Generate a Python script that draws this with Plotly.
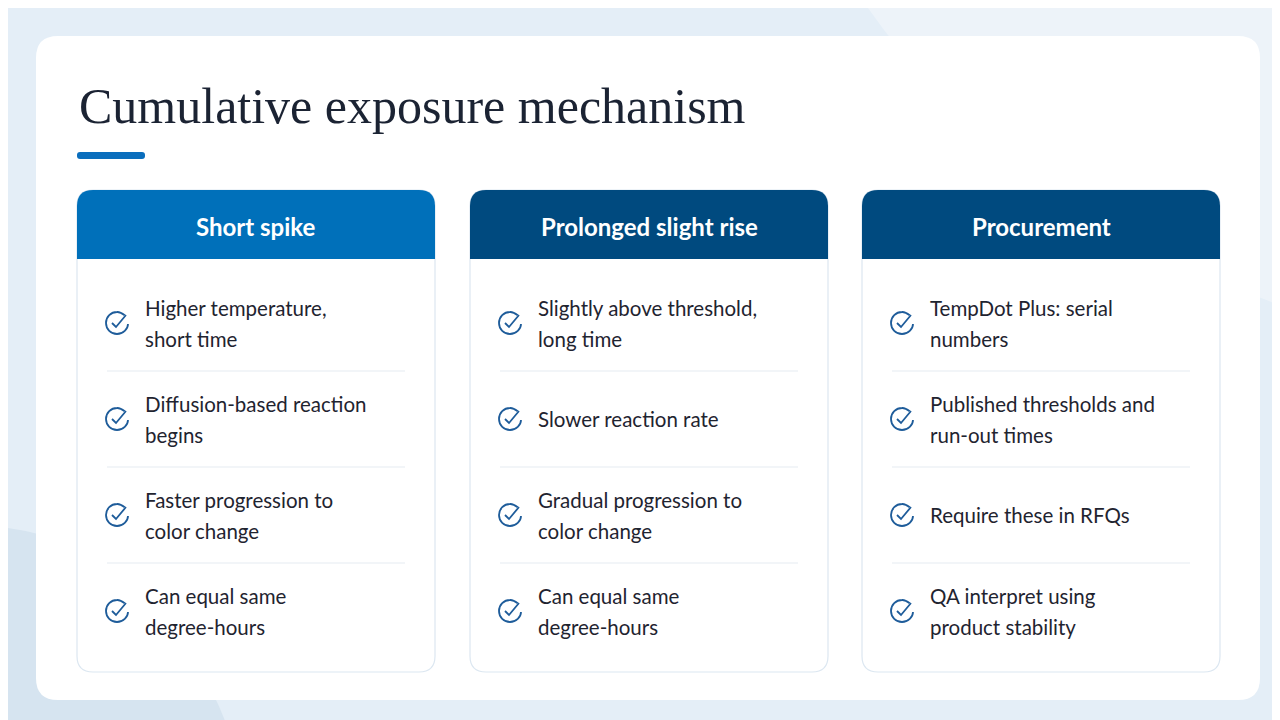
import plotly.graph_objects as go

title = "Cumulative exposure mechanism"
headers = ["Short spike", "Prolonged slight rise", "Procurement"]
header_colors = ["#0070BA", "#004A7F", "#004A7F"]
col1 = ["Higher temperature,\nshort time", "Diffusion-based reaction\nbegins",
        "Faster progression to\ncolor change", "Can equal same\ndegree-hours"]
col2 = ["Slightly above threshold,\nlong time", "Slower reaction rate",
        "Gradual progression to\ncolor change", "Can equal same\ndegree-hours"]
col3 = ["TempDot Plus: serial\nnumbers", "Published thresholds and\nrun-out times",
        "Require these in RFQs", "QA interpret using\nproduct stability"]
columns = [col1, col2, col3]

W, H = 1280, 720
fig = go.Figure()
shapes, ann = [], []

def rrect(x0, y0, x1, y1, r, top=True, bottom=True):
    rt = r if top else 0
    rb = r if bottom else 0
    return (f"M {x0+rt},{y0} L {x1-rt},{y0} Q {x1},{y0} {x1},{y0+rt} "
            f"L {x1},{y1-rb} Q {x1},{y1} {x1-rb},{y1} L {x0+rb},{y1} "
            f"Q {x0},{y1} {x0},{y1-rb} L {x0},{y0+rt} Q {x0},{y0} {x0+rt},{y0} Z")

# background
shapes.append(dict(type="rect", x0=0, y0=0, x1=W, y1=H, fillcolor="#E4EEF7", line_width=0, layer="below"))
shapes.append(dict(type="path", path="M 860,0 L 1280,0 L 1280,300 Q 1000,200 860,0 Z", fillcolor="#EDF3F9", line_width=0, layer="below"))
shapes.append(dict(type="path", path="M 0,520 Q 150,540 220,720 L 0,720 Z", fillcolor="#D6E4F0", line_width=0, layer="below"))
shapes.append(dict(type="path", path=rrect(28, 28, 1252, 692, 22), fillcolor="white", line_width=0, layer="below"))
# accent bar
shapes.append(dict(type="path", path=rrect(69, 144, 137, 151, 3), fillcolor="#0A6EBD", line_width=0))
ann.append(dict(x=69, y=98, text=title, showarrow=False, xanchor="left", yanchor="middle",
                font=dict(family="Liberation Serif", size=50, color="#1B2333")))

card_x = [69, 462, 854]
cw = 358
row_y = [315, 411, 507, 603]
for i, (cx, hdr, hc, items) in enumerate(zip(card_x, headers, header_colors, columns)):
    shapes.append(dict(type="path", path=rrect(cx, 182, cx+cw, 664, 16), fillcolor="white",
                       line=dict(color="#DCE7F1", width=1.2)))
    shapes.append(dict(type="path", path=rrect(cx, 182, cx+cw, 251, 16, bottom=False), fillcolor=hc, line_width=0))
    ann.append(dict(x=cx+cw/2, y=218, text=f"<b>{hdr}</b>", showarrow=False, xanchor="center", yanchor="middle",
                    font=dict(family="Lato", size=24, color="white")))
    for j, (ry, it) in enumerate(zip(row_y, items)):
        if j < 3:
            shapes.append(dict(type="line", x0=cx+30, x1=cx+cw-30, y0=ry+48, y1=ry+48,
                               line=dict(color="#EEF2F6", width=1.5)))
        ix, r = cx+40, 11
        k = 0.552 * r
        # open circle (gap at upper right)
        shapes.append(dict(type="path",
            path=(f"M {ix+r*0.7},{ry-r*0.7} C {ix+r*0.3},{ry-r*1.02} {ix+r*0.0},{ry-r} {ix},{ry-r} "
                  f"C {ix-k},{ry-r} {ix-r},{ry-k} {ix-r},{ry} C {ix-r},{ry+k} {ix-k},{ry+r} {ix},{ry+r} "
                  f"C {ix+k},{ry+r} {ix+r},{ry+k} {ix+r},{ry+1}"),
            line=dict(color="#1E5C9A", width=1.8)))
        shapes.append(dict(type="path", path=f"M {ix-5},{ry} L {ix-1},{ry+4} L {ix+9},{ry-8}",
                           line=dict(color="#1E5C9A", width=1.8)))
        lines = it.split("\n")
        offs = [0] if len(lines) == 1 else [-15.5, 15.5]
        for ln, o in zip(lines, offs):
            ann.append(dict(x=cx+66, y=ry+o, text=ln, showarrow=False, xanchor="left", yanchor="middle",
                            font=dict(family="Lato", size=20.5, color="#1F2430")))

fig.update_layout(width=W, height=H, margin=dict(l=0, r=0, t=0, b=0),
                  paper_bgcolor="#E4EEF7", plot_bgcolor="rgba(0,0,0,0)",
                  xaxis=dict(range=[0, W], visible=False, fixedrange=True),
                  yaxis=dict(range=[H, 0], visible=False, fixedrange=True),
                  shapes=shapes, annotations=ann, showlegend=False)
fig.write_html("out.html", config={"displayModeBar": False})
